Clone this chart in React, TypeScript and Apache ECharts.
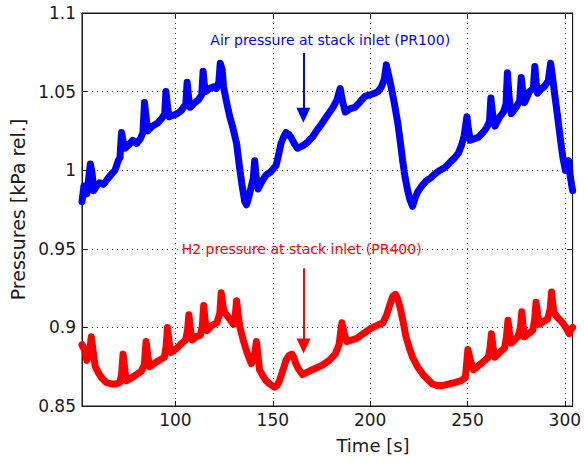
import React, { useEffect, useRef } from "react";
import * as echarts from "echarts";

const FONT = "DejaVu Sans";

const timeAir = [
  52, 53, 54.5, 56.3, 57.2, 58, 59.5, 61, 63, 65.5, 67.5, 69, 70.6, 71.5, 72.3, 73.2, 74, 76, 78, 80,
  82, 83.3, 84.1, 85, 85.8, 88, 90.9, 93, 94.5, 95.1, 96, 96.8, 99, 101, 103, 105.3, 106, 106.8, 107.6, 110,
  112, 113.5, 114.2, 114.8, 115.5, 117.5, 119.6, 121, 122.3, 123, 124, 124.7, 126.3, 127.9, 129.5, 131.4, 132.8, 134, 135.6, 136.5,
  137.5, 139, 140, 140.7, 141.5, 142.4, 144.5, 146.6, 149, 151.7, 153, 154.2, 155.5, 156.8, 158, 159.3, 161, 162.7, 164.5, 166,
  168, 170.3, 173, 175.4, 177, 178.7, 181, 183, 184.6, 185.8, 187.2, 189.5, 192.2, 194.5, 197.3, 200, 202.4, 204, 205.8, 207.3,
  208.3, 209.2, 210.8, 212.5, 214.2, 215.5, 216.7, 218, 219.3, 220.5, 221.8, 223, 224.3, 226.5, 228.6, 231, 233.6, 236, 238.7, 241,
  243.5, 245.4, 247, 248.3, 249.7, 250.5, 251.4, 253.5, 255.6, 258, 259.8, 261.3, 262, 263, 264.1, 266.6, 268.5, 269.8, 270.5, 271.5,
  272.5, 275, 276.8, 277.6, 278.5, 279.3, 281.8, 283.8, 284.6, 285.3, 286, 288, 289.4, 291.5, 292.7, 293.6, 294.5, 296.2, 297.8, 299,
  300.3, 301.2, 302, 302.8, 303.7, 304,
];
const pressureAir = [
  0.980, 0.990, 0.985, 1.004, 0.998, 0.987, 0.990, 0.992, 0.991, 0.995, 0.998, 1.000, 1.006, 1.008, 1.024, 1.018, 1.014, 1.016, 1.019, 1.017,
  1.020, 1.024, 1.043, 1.033, 1.025, 1.028, 1.030, 1.033, 1.036, 1.050, 1.040, 1.034, 1.035, 1.036, 1.038, 1.042, 1.056, 1.046, 1.040, 1.043,
  1.045, 1.048, 1.063, 1.055, 1.050, 1.052, 1.053, 1.052, 1.056, 1.068, 1.064, 1.053, 1.043, 1.034, 1.027, 1.017, 1.003, 0.992, 0.980, 0.978,
  0.982, 0.990, 0.995, 1.006, 0.995, 0.988, 0.993, 0.997, 0.999, 1.003, 1.010, 1.017, 1.021, 1.024, 1.023, 1.021, 1.017, 1.014, 1.015, 1.016,
  1.018, 1.021, 1.026, 1.030, 1.033, 1.036, 1.040, 1.045, 1.052, 1.044, 1.037, 1.039, 1.040, 1.043, 1.047, 1.048, 1.049, 1.050, 1.053, 1.058,
  1.067, 1.062, 1.053, 1.042, 1.030, 1.018, 1.006, 0.995, 0.987, 0.981, 0.977, 0.982, 0.986, 0.990, 0.993, 0.995, 0.998, 1.000, 1.002, 1.005,
  1.008, 1.011, 1.016, 1.022, 1.034, 1.026, 1.019, 1.020, 1.021, 1.024, 1.027, 1.031, 1.046, 1.035, 1.028, 1.034, 1.037, 1.042, 1.062, 1.045,
  1.036, 1.040, 1.044, 1.059, 1.049, 1.043, 1.050, 1.052, 1.066, 1.055, 1.049, 1.052, 1.053, 1.057, 1.068, 1.060, 1.051, 1.035, 1.019, 1.008,
  1.000, 1.004, 1.006, 0.996, 0.989, 0.987,
];

const timeH2 = [
  52, 53.5, 54.5, 55.8, 56.8, 57.8, 58.8, 60.5, 62.1, 64.5, 67.2, 69.5, 71.4, 72.3, 73.1, 74, 74.8, 77.5, 80, 82.4,
  84, 84.9, 85.8, 86.7, 89, 91.5, 94.3, 95.2, 95.9, 96.8, 97.6, 100, 102.5, 105.2, 106.2, 106.9, 107.8, 108.6, 110.5, 112.8,
  113.8, 114.5, 115.3, 116.2, 118.5, 121.3, 122.8, 123.5, 124.5, 125.5, 127.5, 129.8, 130.7, 131.4, 132.2, 133.1, 134.8, 136.5, 138, 139,
  140.5, 141.6, 142.4, 143.2, 145, 146.6, 148.5, 150.8, 152.2, 153.4, 155, 156.8, 158.3, 159.8, 160.8, 161.8, 163.5, 165.2, 168.5, 172,
  175.5, 179, 182.1, 184, 185.5, 186.7, 188, 190.5, 193.1, 196.5, 199.8, 203, 206.6, 208.5, 210, 211.7, 213, 214.2, 215.5, 216.7,
  218.4, 220.1, 221.8, 224.3, 226.9, 229.5, 232, 234.5, 237, 240.5, 243.8, 246.5, 248.9, 249.5, 250.2, 251.5, 253.1, 257, 260.7, 261.6,
  262.3, 263.1, 264, 266.5, 269.1, 270, 270.8, 271.6, 272.5, 275.9, 277.2, 277.9, 278.6, 279.3, 283.5, 284.5, 285.2, 286.1, 287, 291.2,
  292.5, 293.2, 293.9, 294.6, 296.5, 298.8, 300.5, 302.2, 303.2, 304,
];
const pressureH2 = [
  0.889, 0.885, 0.879, 0.884, 0.894, 0.884, 0.875, 0.871, 0.868, 0.865, 0.864, 0.864, 0.865, 0.870, 0.883, 0.873, 0.866, 0.868, 0.870, 0.872,
  0.876, 0.891, 0.882, 0.875, 0.877, 0.879, 0.881, 0.888, 0.900, 0.890, 0.884, 0.886, 0.889, 0.892, 0.898, 0.908, 0.898, 0.892, 0.894, 0.895,
  0.901, 0.914, 0.904, 0.898, 0.901, 0.903, 0.909, 0.922, 0.913, 0.909, 0.906, 0.902, 0.907, 0.917, 0.908, 0.900, 0.892, 0.885, 0.880, 0.877,
  0.882, 0.891, 0.882, 0.873, 0.869, 0.866, 0.864, 0.862, 0.863, 0.866, 0.872, 0.879, 0.882, 0.883, 0.881, 0.877, 0.873, 0.870, 0.872, 0.874,
  0.876, 0.879, 0.883, 0.889, 0.903, 0.896, 0.891, 0.892, 0.893, 0.896, 0.899, 0.901, 0.903, 0.908, 0.914, 0.920, 0.921, 0.918, 0.912, 0.905,
  0.894, 0.887, 0.881, 0.875, 0.8705, 0.867, 0.864, 0.863, 0.863, 0.864, 0.865, 0.866, 0.868, 0.876, 0.886, 0.879, 0.873, 0.877, 0.881, 0.887,
  0.896, 0.888, 0.881, 0.884, 0.887, 0.894, 0.9045, 0.896, 0.890, 0.894, 0.900, 0.910, 0.901, 0.894, 0.898, 0.905, 0.916, 0.908, 0.902, 0.9055,
  0.912, 0.9225, 0.914, 0.909, 0.906, 0.903, 0.900, 0.896, 0.899, 0.900,
];

const yTicks = { min: 0.85, max: 1.1, step: 0.05 };
const xRange = { min: 52, max: 304 };

const airLabel = "Air pressure at stack inlet (PR100)";
const h2Label = "H2 pressure at stack inlet (PR400)";
const airLabelPos = [179.5, 1.0828];
const h2LabelPos = [164.8, 0.9497];
const airArrow = [
  [165.7, 1.0745],
  [165.7, 1.035],
];
const h2Arrow = [
  [165.8, 0.9376],
  [165.8, 0.8882],
];

const zip = (xs: number[], ys: number[]) => xs.map((x, i) => [x, ys[i]]);

export default function App() {
  const ref = useRef<HTMLDivElement>(null);
  useEffect(() => {
    if (!ref.current) return;
    const chart = echarts.init(ref.current, undefined, { renderer: "svg" });
    const axisColor = "#1a1a1a";
    const gridStyle = { type: [1, 4] as any, color: "#333", width: 1 };
    const annot = (
      color: string,
      text: string,
      pos: number[],
      arrow: number[][]
    ) => ({
      markPoint: {
        silent: true,
        symbol: "rect",
        symbolSize: 0,
        itemStyle: { color: "transparent" },
        label: {
          show: true,
          position: "inside",
          formatter: text,
          color,
          fontSize: 14,
          fontFamily: FONT,
        },
        data: [{ coord: pos }],
      },
      markLine: {
        silent: true,
        symbol: ["none", "triangle"],
        symbolSize: [14, 15],
        lineStyle: { color, width: 2, type: "solid" },
        label: { show: false },
        data: [[{ coord: arrow[0] }, { coord: arrow[1] }]],
      },
    });
    chart.setOption({
      animation: false,
      backgroundColor: "#fff",
      grid: {
        left: 78,
        top: 13,
        right: 8,
        bottom: 55,
        show: true,
        borderColor: axisColor,
        borderWidth: 1,
      },
      xAxis: [
        {
          type: "value",
          min: xRange.min,
          max: xRange.max,
          splitNumber: 5,
          axisLine: { show: true, lineStyle: { color: axisColor, width: 1 } },
          axisTick: { show: true, inside: true, length: 5, lineStyle: { color: axisColor } },
          axisLabel: {
            showMinLabel: false,
            showMaxLabel: false,
            margin: 5,
            color: "#1a1a1a",
            fontSize: 17,
            fontFamily: FONT,
          },
          splitLine: { show: true, lineStyle: gridStyle },
        },
        {
          type: "value",
          position: "top",
          min: xRange.min,
          max: xRange.max,
          splitNumber: 5,
          axisLine: { show: true, lineStyle: { color: axisColor, width: 1 } },
          axisTick: { show: true, inside: true, length: 5, lineStyle: { color: axisColor } },
          axisLabel: { show: false },
          splitLine: { show: false },
        },
      ],
      yAxis: [
        {
          type: "value",
          min: yTicks.min,
          max: yTicks.max,
          interval: yTicks.step,
          name: "Pressures [kPa rel.]",
          nameLocation: "middle",
          nameGap: 55,
          nameTextStyle: { fontSize: 19, fontFamily: FONT, color: "#1a1a1a" },
          axisLine: { show: true, lineStyle: { color: axisColor, width: 1 } },
          axisTick: { show: true, inside: true, length: 5, lineStyle: { color: axisColor } },
          axisLabel: { margin: 6, color: "#1a1a1a", fontSize: 17, fontFamily: FONT },
          splitLine: { show: true, lineStyle: gridStyle },
        },
        {
          type: "value",
          position: "right",
          min: yTicks.min,
          max: yTicks.max,
          interval: yTicks.step,
          axisLine: { show: true, lineStyle: { color: axisColor, width: 1 } },
          axisTick: { show: true, inside: true, length: 5, lineStyle: { color: axisColor } },
          axisLabel: { show: false },
          splitLine: { show: false },
        },
      ],
      graphic: [
        {
          type: "text",
          x: 373,
          y: 445,
          style: {
            text: "Time [s]",
            fill: "#1a1a1a",
            fontSize: 18,
            fontFamily: FONT,
            textAlign: "center",
            textVerticalAlign: "middle",
          },
        },
      ],
      series: [
        {
          type: "line",
          name: "PR100",
          data: zip(timeAir, pressureAir),
          showSymbol: false,
          lineStyle: { color: "#0000ff", width: 7, join: "round", cap: "round" },
          itemStyle: { color: "#0000ff" },
          ...annot("#0000ff", airLabel, airLabelPos, airArrow),
        },
        {
          type: "line",
          name: "PR400",
          data: zip(timeH2, pressureH2),
          showSymbol: false,
          lineStyle: { color: "#ff0000", width: 7, join: "round", cap: "round" },
          itemStyle: { color: "#ff0000" },
          ...annot("#ff0000", h2Label, h2LabelPos, h2Arrow),
        },
      ],
    });
    return () => chart.dispose();
  }, []);
  return (
    <div
      ref={ref}
      style={{ position: "absolute", left: 0, top: 0, width: 584, height: 461, background: "#fff" }}
    />
  );
}
